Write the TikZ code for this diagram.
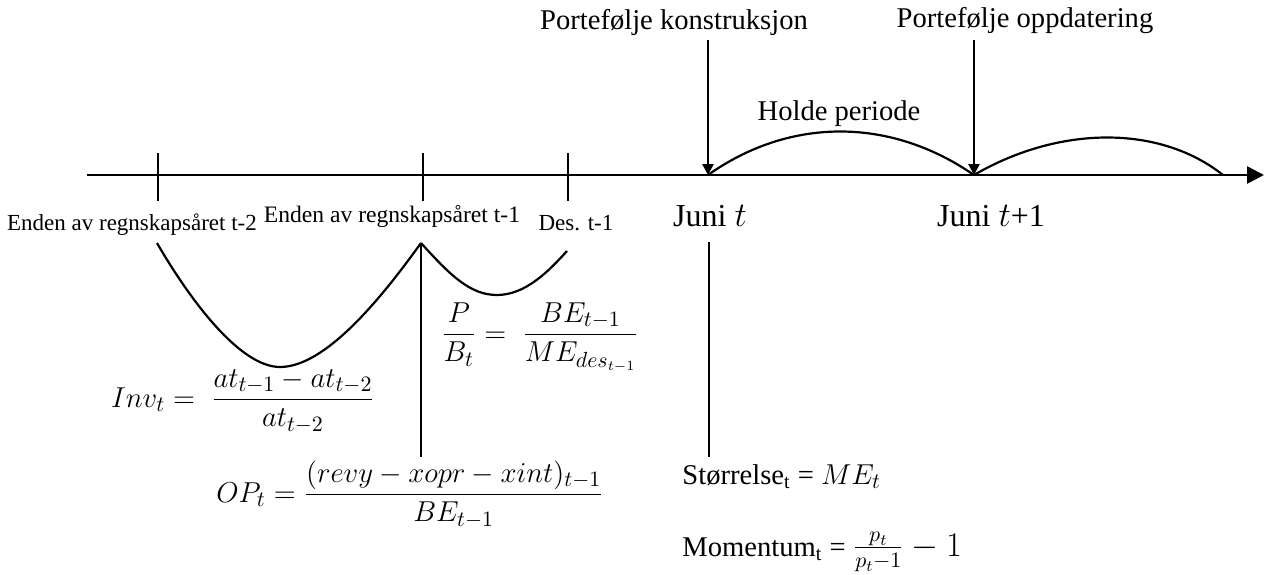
\documentclass[tikz,border=0pt]{standalone}
\usepackage{fontspec}
\setmainfont{Liberation Serif}
\usetikzlibrary{arrows.meta}

\tikzset{
  markline/.style={line width=1.3pt},
  curveline/.style={line width=1.1pt},
  datelabel/.style={font=\fontsize{11.5}{13}\selectfont, inner sep=0pt},
  eventlabel/.style={font=\fontsize{14.3}{17}\selectfont, inner sep=0pt},
  junilabel/.style={font=\fontsize{16}{19}\selectfont, inner sep=0pt},
  formula/.style={font=\fontsize{15}{18}\selectfont, inner sep=0pt},
}

\begin{document}
\begin{tikzpicture}[x=0.5pt,y=-0.5pt]
  \path[use as bounding box] (0,0) rectangle (1266,574);

  % Time axis
  \coordinate (axstart) at (87,175);
  \coordinate (axend) at (1264,175);
  \draw[markline, -{Triangle[length=8.5pt,width=8.5pt]}] (axstart) -- (axend);

  % Ticks
  \coordinate (tickAtop) at (158,153);  \coordinate (tickAbot) at (158,201);
  \coordinate (tickBtop) at (423,153);  \coordinate (tickBbot) at (423,201);
  \coordinate (tickCtop) at (568,153);  \coordinate (tickCbot) at (568,201);
  \draw[markline] (tickAtop) -- (tickAbot);
  \draw[markline] (tickBtop) -- (tickBbot);
  \draw[markline] (tickCtop) -- (tickCbot);

  % Portfolio events
  \node[eventlabel] (konstr) at (674,22) {Portefølje konstruksjon};
  \node[eventlabel] (oppdat) at (1025,21) {Portefølje oppdatering};
  \coordinate (konstrtop) at (708,40);
  \coordinate (juni) at (708,175);
  \coordinate (oppdattop) at (974,40);
  \coordinate (juniplus) at (974,175);
  \coordinate (holdeend) at (1223,175);
  \draw[markline, -{Triangle[length=5.5pt,width=5.5pt]}] (konstrtop) -- (juni);
  \draw[markline, -{Triangle[length=5.5pt,width=5.5pt]}] (oppdattop) -- (juniplus);

  % Holding periods
  \node[eventlabel] (holde) at (839,114) {Holde periode};
  \draw[curveline] (juni) .. controls (790,117) and (890,117) .. (juniplus);
  \draw[curveline] (juniplus) .. controls (1060,125) and (1160,125) .. (holdeend);

  % Dates below the axis
  \node[datelabel] (endeA) at (132,225) {Enden av regnskapsåret t-2};
  \node[datelabel, font=\fontsize{11.8}{13}\selectfont] (endeB) at (392,216) {Enden av regnskapsåret t-1};
  \node[datelabel] (des) at (576,223) {Des. t-1};
  \node[junilabel] (junit) at (710,216) {Juni $t$};
  \node[junilabel] (junitplus) at (991,216) {Juni $t$+1};

  % Accounting intervals
  \coordinate (invstart) at (157,243);
  \coordinate (cusp) at (421,243);
  \coordinate (desend) at (567,251);
  \coordinate (cuspbot) at (421,457);
  \coordinate (junitop) at (709,242);
  \coordinate (junibot) at (709,457);
  \draw[curveline] (invstart) .. controls (190,300) and (240,367) .. (280,367)
    .. controls (325,367) and (380,300) .. (cusp);
  \draw[curveline] (cusp) .. controls (450,275) and (470,295) .. (497,295)
    .. controls (525,295) and (548,272) .. (desend);
  \draw[markline] (cusp) -- (cuspbot);
  \draw[markline] (junitop) -- (junibot);

  % Variables
  \node[formula, anchor=base] (inv) at (243,407)
    {$\displaystyle Inv_t =\; \frac{at_{t-1}-at_{t-2}}{at_{t-2}}$};
  \node[formula, anchor=base] (pb) at (540,342)
    {$\displaystyle \frac{P}{B_t} =\; \frac{BE_{t-1}}{ME_{des_{t-1}}}$};
  \node[formula, anchor=base] (op) at (410,502)
    {$\displaystyle OP_t = \frac{(revy-xopr-xint)_{t-1}}{BE_{t-1}}$};
  \node[eventlabel, anchor=base west] (size) at (682,484)
    {Størrelse\textsubscript{t} = {\fontsize{15}{18}\selectfont$ME_t$}};
  \node[eventlabel, anchor=base west] (mom) at (682,556)
    {Momentum\textsubscript{t} = {\fontsize{16}{19}\selectfont$\frac{p_t}{p_t-1}-1$}};
\end{tikzpicture}
\end{document}
